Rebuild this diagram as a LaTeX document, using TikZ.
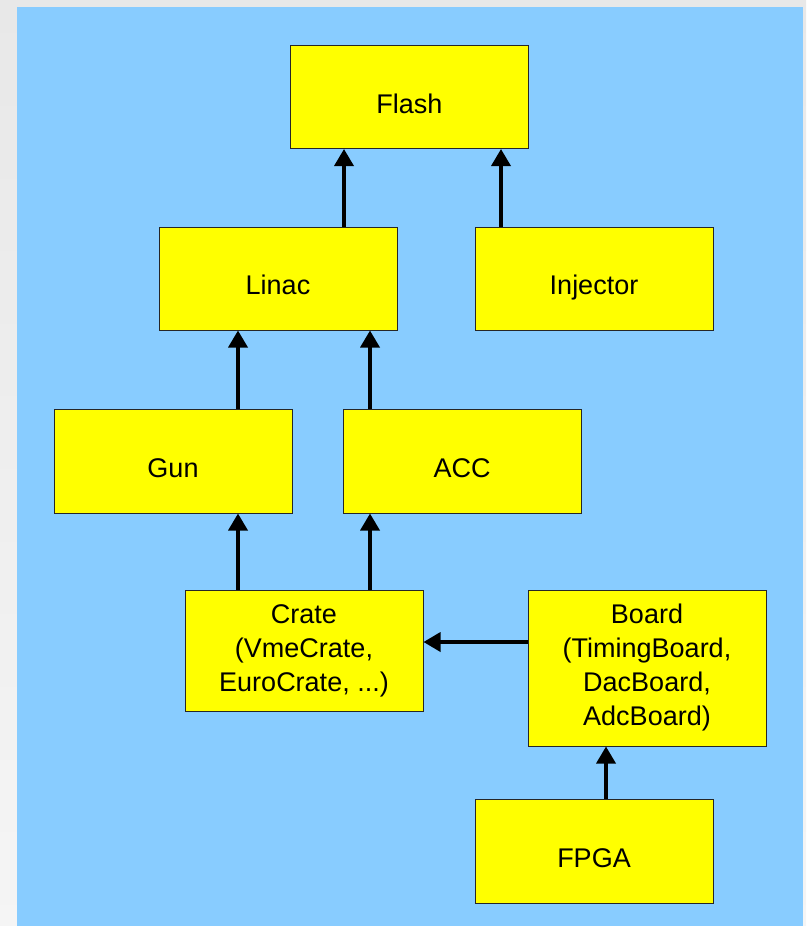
\documentclass[tikz,border=0pt]{standalone}
\usepackage{fontspec}
\setmainfont{Liberation Sans}
\usepackage{tikz}
\usetikzlibrary{arrows.meta,positioning}

\definecolor{skyblue}{HTML}{88CCFF}
\definecolor{boxyellow}{HTML}{FFFF00}

\tikzset{
  unit/.style={draw=black!85, fill=boxyellow, line width=1pt, minimum width=238pt,
    minimum height=103pt, align=center, inner sep=0pt,
    font=\fontsize{27}{34}\selectfont},
  oneline/.style={text height=32.5pt, text depth=0pt},
  link/.style={line width=3.5pt, -{Triangle[length=17pt,width=19pt]}}
}

\begin{document}
\begin{tikzpicture}[x=1pt,y=-1pt]
\shade[top color=black!9, bottom color=black!4] (0,0) rectangle (806,926);
\fill[skyblue] (17,7) rectangle (803,926);
\useasboundingbox (0,0) rectangle (806,926);
\node[unit, oneline] (flash) at (409.5,97) {Flash};
\node[unit, oneline] (linac) at (278,278.5) {Linac};
\node[unit, oneline] (injector) at (594,278.5) {Injector};
\node[unit, oneline, minimum height=104pt] (gun) at (173,461) {Gun};
\node[unit, oneline, minimum height=104pt] (acc) at (462,461) {ACC};
\node[unit, minimum height=121pt] (crate) at (304,650.5) {Crate\\(VmeCrate,\\EuroCrate, ...)};
\node[unit, minimum height=156pt] (board) at (647,668) {Board\\(TimingBoard,\\DacBoard,\\AdcBoard)};
\node[unit, oneline, minimum height=104pt] (fpga) at (594,851) {FPGA};
\draw[link] ([xshift=66pt]linac.north) -- ([xshift=66pt]linac.north |- flash.south);
\draw[link] ([xshift=-93pt]injector.north) -- ([xshift=-93pt]injector.north |- flash.south);
\draw[link] ([xshift=65pt]gun.north) -- ([xshift=65pt]gun.north |- linac.south);
\draw[link] ([xshift=-92pt]acc.north) -- ([xshift=-92pt]acc.north |- linac.south);
\draw[link] ([xshift=-66pt]crate.north) -- ([xshift=-66pt]crate.north |- gun.south);
\draw[link] ([xshift=66pt]crate.north) -- ([xshift=66pt]crate.north |- acc.south);
\draw[link] ([yshift=26pt]board.west) -- ([yshift=26pt]board.west -| crate.east);
\draw[link] ([xshift=12pt]fpga.north) -- ([xshift=12pt]fpga.north |- board.south);
\end{tikzpicture}
\end{document}
